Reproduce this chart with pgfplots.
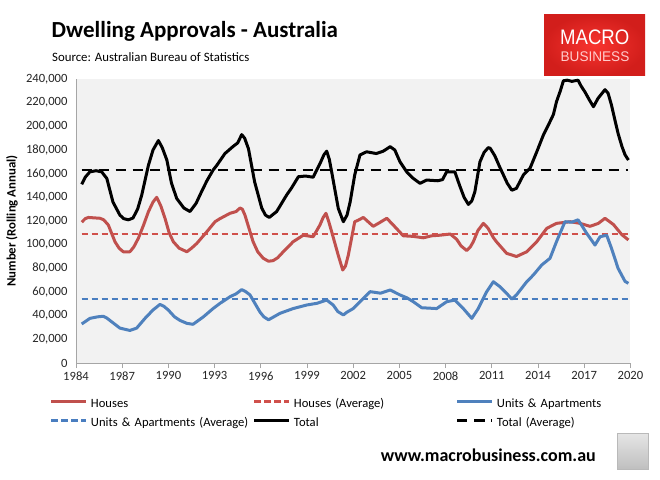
\documentclass[border=0pt]{standalone}
\usepackage{pgfplots}
\pgfplotsset{compat=1.18}
\usepackage{fontspec}
\setmainfont{Carlito}
\newfontfamily\logofont{Liberation Sans}
\definecolor{houses}{HTML}{C0504D}
\definecolor{housesavg}{HTML}{D0504B}
\definecolor{units}{HTML}{4F81BD}
\definecolor{unitsavg}{HTML}{4A7EC0}
\definecolor{plotbg}{HTML}{F2F2F2}
\definecolor{axgray}{HTML}{A6A6A6}
\definecolor{logoin}{HTML}{F8342F}
\definecolor{logoout}{HTML}{D21E1B}
\pgfplotsset{totalavg legend/.style={legend image code/.code={\draw[##1, dash pattern=on 8.5pt off 9pt] (1.5pt,3.5pt) -- (28.5pt,3.5pt); \path (0pt,3.5pt) -- (35pt,3.5pt);}}}

\pgfplotstableread{
x y
1984.37 151000
1984.6 157000
1984.9 161500
1985.3 162500
1985.67 161500
1986.0 156000
1986.4 136000
1986.85 125000
1987.1 122000
1987.4 121000
1987.7 122500
1988.0 130000
1988.27 142000
1988.7 167000
1989.0 180000
1989.35 188000
1989.6 182000
1989.9 171500
1990.2 152000
1990.54 139000
1991.0 131000
1991.4 128000
1991.8 135000
1992.16 145000
1992.5 154000
1992.9 163000
1993.14 167000
1993.67 177000
1994.2 183000
1994.5 186000
1994.76 193000
1994.95 190000
1995.2 181000
1995.6 153000
1996.06 131000
1996.3 125000
1996.55 123000
1997.03 128000
1997.68 142000
1998.0 148000
1998.44 157400
1998.9 158000
1999.4 157000
1999.85 168700
2000.1 176000
2000.28 179000
2000.45 172000
2000.6 161600
2001.03 130700
2001.36 119400
2001.6 125000
2001.8 136000
2002.1 159000
2002.44 175800
2002.87 178500
2003.5 177000
2003.95 179000
2004.4 182800
2004.7 180000
2005.04 170000
2005.47 161600
2005.9 156000
2006.34 151800
2006.77 154600
2007.5 154000
2007.8 155000
2008.07 161600
2008.6 161600
2008.9 150400
2009.2 140000
2009.48 134000
2009.7 137000
2009.9 144700
2010.23 170000
2010.5 178000
2010.77 182000
2010.9 181400
2011.2 175000
2011.5 166000
2011.75 159000
2012.0 152000
2012.3 146000
2012.6 147600
2013.05 158900
2013.48 164500
2013.92 178500
2014.35 192700
2014.78 204000
2015.0 210000
2015.2 220800
2015.45 230000
2015.65 238500
2015.9 239000
2016.2 238000
2016.6 239000
2016.8 234000
2017.05 229000
2017.35 222000
2017.6 216600
2017.9 223700
2018.35 231000
2018.55 228000
2018.77 218000
2019.0 205000
2019.2 194000
2019.45 183000
2019.65 176000
2019.87 171500
}\total

\pgfplotstableread{
x y
1984.37 119000
1984.6 122000
1984.8 123000
1985.56 122300
1985.8 121000
1986.1 116600
1986.53 102500
1986.8 97000
1987.07 94000
1987.5 94000
1987.75 98000
1988.05 105400
1988.4 117000
1988.7 127800
1989.0 136000
1989.24 140000
1989.5 133000
1989.78 122300
1990.05 110000
1990.32 102500
1990.7 97000
1991.2 94000
1991.5 97000
1991.84 101000
1992.5 111000
1993.03 119400
1993.35 122000
1994.0 126500
1994.4 128000
1994.65 131000
1994.8 130000
1994.97 125000
1995.5 102500
1995.8 94000
1996.16 88500
1996.5 86000
1996.8 86500
1997.1 89000
1997.46 94000
1998.1 102500
1998.76 108000
1999.4 106700
1999.84 116600
2000.05 123000
2000.23 126500
2000.4 120000
2000.6 111000
2001.03 91000
2001.32 78600
2001.5 82000
2001.68 91000
2002.1 119400
2002.3 120500
2002.66 123000
2003.0 119000
2003.3 115500
2003.7 118500
2004.18 122300
2004.6 116600
2005.25 107500
2005.9 107000
2006.55 105800
2007.1 107500
2007.64 108000
2008.3 109000
2008.72 104500
2009.0 99000
2009.37 95000
2009.6 98000
2009.8 102500
2010.1 112000
2010.45 118000
2010.75 114000
2011.1 106000
2011.3 102500
2011.96 92700
2012.6 90000
2013.27 94000
2013.92 102500
2014.57 113800
2015.2 118000
2016.1 119400
2016.73 118000
2017.38 115500
2017.92 118000
2018.35 122300
2018.9 117000
2019.44 108500
2019.87 104000
}\houses

\pgfplotstableread{
x y
1984.37 33000
1984.6 35000
1984.9 37700
1985.4 39000
1985.77 39500
1986.0 38000
1986.3 35000
1986.85 29500
1987.5 27500
1987.94 29500
1988.48 37700
1989.0 44800
1989.45 49500
1989.7 48000
1989.99 44800
1990.4 39000
1990.75 36000
1991.2 33500
1991.6 32700
1992.27 39000
1992.9 46000
1993.35 50400
1994.0 56000
1994.4 58500
1994.76 62000
1995.0 60500
1995.3 57500
1995.95 43000
1996.2 39000
1996.5 36500
1997.25 42000
1998.1 46000
1998.98 49000
1999.63 50400
2000.28 53200
2000.7 49000
2001.0 43500
2001.36 40600
2001.6 43000
2002.0 46000
2002.44 51800
2003.1 60300
2003.77 59000
2004.4 61700
2005.04 57500
2005.5 55000
2005.9 51800
2006.45 46700
2007.42 46000
2008.07 51800
2008.6 53200
2009.15 46000
2009.7 37700
2010.12 46000
2010.67 60300
2011.1 68700
2011.53 64500
2011.96 58900
2012.3 54000
2012.6 57500
2013.27 68700
2013.7 74400
2014.24 82800
2014.78 88500
2015.2 102500
2015.75 119400
2016.2 119000
2016.6 121000
2016.9 115000
2017.16 109600
2017.7 99700
2018.03 106700
2018.46 108000
2018.77 97000
2019.2 80000
2019.65 69000
2019.87 67300
}\units

\begin{document}
\begin{tikzpicture}[x=1pt,y=1pt]
\fill[white] (0,0) rectangle (660,479);
\begin{axis}[
  at={(76pt,116pt)}, anchor=south west,
  width=554.4pt, height=284pt, scale only axis,
  xmin=1984, xmax=2020, ymin=0, ymax=240000,
  axis lines=left,
  axis line style={-, draw=axgray, line width=0.8pt},
  axis background/.style={fill=plotbg},
  xtick={1984,1987,1990,1993,1996,1999,2002,2005,2008,2011,2014,2017,2020},
  xticklabels={1984,1987,1990,1993,1996,1999,2002,2005,2008,2011,2014,2017,2020},
  ytick={0,20000,40000,60000,80000,100000,120000,140000,160000,180000,200000,220000,240000},
  yticklabels={0,{20,000},{40,000},{60,000},{80,000},{100,000},{120,000},{140,000},{160,000},{180,000},{200,000},{220,000},{240,000}},
  xtick style={draw=axgray, line width=0.8pt},
  ytick style={draw=none},
  major tick length=5pt,
  tick align=outside,
  scaled y ticks=false,
  tick label style={font=\fontsize{12.6}{14}\selectfont, text=black!85},
  ylabel={Number (Rolling Annual)},
  ylabel style={font=\bfseries\fontsize{12.8}{15}\selectfont, at={(axis description cs:-0.1154,0.5)}, anchor=center},
  clip=false,
  legend image code/.code={\draw[#1] (0pt,3.5pt) -- (35pt,3.5pt);},
  legend style={at={(axis description cs:-0.0469,-0.1232)}, anchor=north west,
    draw=none, fill=none, inner sep=0pt, outer sep=0pt,
    legend columns=3, font=\fontsize{12.6}{15}\selectfont,
    row sep=5pt,
    /tikz/every odd column/.append style={column sep=2pt},
    /tikz/every even column/.append style={column sep=4pt},
    nodes={inner sep=1pt, text width=157pt, text height=9pt, text depth=3pt, align=left}},
  legend cell align=left,
]
\addplot[houses, line width=3pt, line join=round] table {\houses};
\addlegendentry{\mbox{Houses}}
\addplot[housesavg, line width=2.2pt, dash pattern=on 6.5pt off 3.5pt] coordinates {(1984.37,109000) (2019.87,109000)};
\addlegendentry{\mbox{Houses (Average)}}
\addplot[units, line width=3pt, line join=round] table {\units};
\addlegendentry{\mbox{Units \& Apartments}}
\addplot[unitsavg, line width=2.2pt, dash pattern=on 6.5pt off 3.5pt] coordinates {(1984.37,54000) (2019.87,54000)};
\addlegendentry{\mbox{Units \& Apartments (Average)}}
\addplot[black, line width=3pt, line join=round] table {\total};
\addlegendentry{\mbox{Total}}
\addplot[black, line width=2.6pt, dash pattern=on 10pt off 7pt, totalavg legend] coordinates {(1984.37,163000) (2019.87,163000)};
\addlegendentry{\mbox{Total (Average)}}
\end{axis}
% title and source
\node[anchor=base west, inner sep=0pt, font=\bfseries\fontsize{23}{26}\selectfont] at (51.5,441.7) {Dwelling Approvals - Australia};
\node[anchor=base west, inner sep=0pt, font=\fontsize{12.8}{15}\selectfont] at (52,417) {Source: Australian Bureau of Statistics};
% logo
\shade[inner color=logoin, outer color=logoout] (544,403) rectangle (645,464);
\node[text=white, font=\logofont\fontsize{21}{21}\selectfont, xscale=0.885, inner sep=0pt] at (594.7,441.5) {MACRO};
\node[text=white!80!red, font=\logofont\fontsize{14}{14}\selectfont, xscale=0.97, inner sep=0pt] at (595,422.3) {BUSINESS};
% url
\node[anchor=east, inner sep=0pt, font=\bfseries\fontsize{18}{20}\selectfont] at (596,24) {www.macrobusiness.com.au};
% wolf placeholder
\shade[top color=gray!20, bottom color=gray!50] (617,10) rectangle (648,46);
\draw[gray!55, line width=1pt] (617,10) rectangle (648,46);
\end{tikzpicture}
\end{document}
